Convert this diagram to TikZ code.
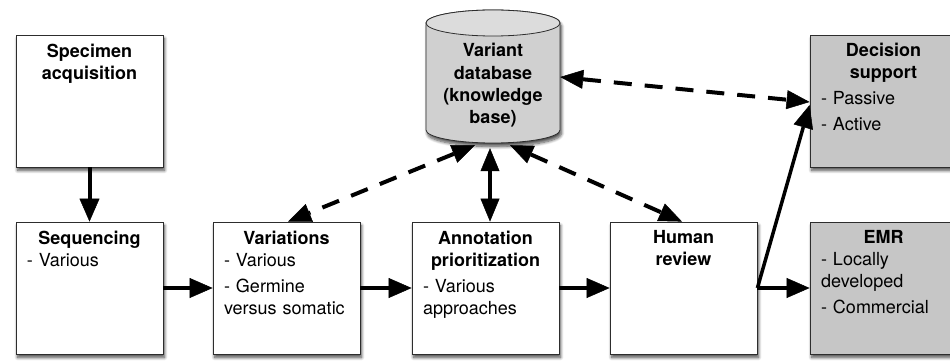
\documentclass[tikz,border=0pt]{standalone}
\usepackage{fontspec}
\setmainfont{TeX Gyre Heros}
\usetikzlibrary{arrows.meta,calc,shadows.blur}

\definecolor{boxgray}{RGB}{198,198,198}
\definecolor{dbbody}{RGB}{208,208,208}
\definecolor{dbtop}{RGB}{220,220,220}
\definecolor{edge}{RGB}{45,45,45}

% heading lines (centred, bold) and bullet items (flush left)
\newcommand\hd[1]{{\centering\bfseries #1\par}}
\newcommand\itm[1]{{\raggedright #1\par}}
\newcommand\gap{\vspace{4pt}}

\begin{document}
\begin{tikzpicture}[x=1pt,y=1pt,
  font=\fontsize{18}{22}\selectfont,
  softshadow/.style={blur shadow={shadow xshift=1.5pt,shadow yshift=-3.5pt,
      shadow blur radius=3pt,shadow blur steps=8,shadow opacity=70}},
  box/.style={draw=edge,line width=0.8pt,fill=white,minimum width=147pt,
      minimum height=132pt,inner sep=0pt,softshadow},
  graybox/.style={box,fill=boxgray},
  txt/.style={text width=125pt,inner sep=0pt,anchor=north},
  flow/.style={line width=4pt,
      -{Triangle[length=23pt,width=20pt,line width=0.5pt,fill=black]}},
  link/.style={line width=4pt,dash pattern=on 18pt off 13pt,
      {Triangle[length=23pt,width=19pt,line width=0.5pt,fill=black]}-{Triangle[length=23pt,width=19pt,line width=0.5pt,fill=black]}},
]
\useasboundingbox (0,0) rectangle (950,362);
\clip (0,0) rectangle (950,362);

% process boxes
\node[box] (spec) at (89.5,261) {};
\node[box] (seq)  at (89.5,74) {};
\node[box] (var)  at (286.5,74) {};
\node[box] (ann)  at (485.5,74) {};
\node[box] (hum)  at (683.5,74) {};
\node[graybox] (dec) at (883.5,261) {};
\node[graybox] (emr) at (883.5,74) {};

% box texts
\node[txt] (specT) at ($(spec.north)+(0,-9)$) {\hd{Specimen\\acquisition}};
\node[txt] (seqT)  at ($(seq.north)+(0,-9)$)  {\hd{Sequencing}\itm{- Various}};
\node[txt] (varT)  at ($(var.north)+(0,-9)$)  {\hd{Variations}\itm{- Various}\gap\itm{- Germine\\versus somatic}};
\node[txt] (annT)  at ($(ann.north)+(0,-9)$)  {\hd{Annotation\\prioritization}\gap\itm{- Various\\approaches}};
\node[txt] (humT)  at ($(hum.north)+(0,-9)$)  {\hd{Human\\review}};
\node[txt] (decT)  at ($(dec.north)+(0,-8)$)  {\hd{Decision\\support}\gap\itm{- Passive}\gap\itm{- Active}};
\node[txt] (emrT)  at ($(emr.north)+(0,-9)$)  {\hd{EMR}\itm{- Locally\\developed}\gap\itm{- Commercial}};

% variant database cylinder
\path[fill=dbbody,draw=edge,line width=0.8pt,softshadow]
  (426,339) -- (426,232)
  arc[start angle=180,end angle=360,x radius=67,y radius=13]
  -- (560,339)
  arc[start angle=0,end angle=180,x radius=67,y radius=13] -- cycle;
\draw[fill=dbtop,draw=edge,line width=0.8pt] (493,339) ellipse[x radius=67,y radius=13];
\node[minimum width=134pt,minimum height=133pt,inner sep=0pt] (db) at (493,285.5) {};
\node[align=center,font=\fontsize{18}{22.3}\selectfont\bfseries] (dbT) at (493,276.5)
  {Variant\\database\\(knowledge\\base)};

% main flow
\draw[flow] (spec.south) -- (seq.north);
\draw[flow] (seq.east) -- (var.west);
\draw[flow] (var.east) -- (ann.west);
\draw[flow] (ann.east) -- (hum.west);
\draw[flow] (hum.east) -- (emr.west);
\draw[flow,line width=3.5pt] (hum.east) -- ($(dec.west)+(0,-4)$);

% links with the database
\draw[link] ($(db.east)+(0,-0.5)$) -- ($(dec.west)+(0,-1)$);
\draw[link] ($(db.south)+(-18,-2)$) -- ($(var.north)+(1.5,0)$);
\draw[link,solid] ($(db.south)+(-3,-5)$) -- ($(ann.north)+(4.5,0)$);
\draw[link] ($(db.south)+(17,-2)$) -- ($(hum.north)+(-1.5,0)$);
\end{tikzpicture}
\end{document}
